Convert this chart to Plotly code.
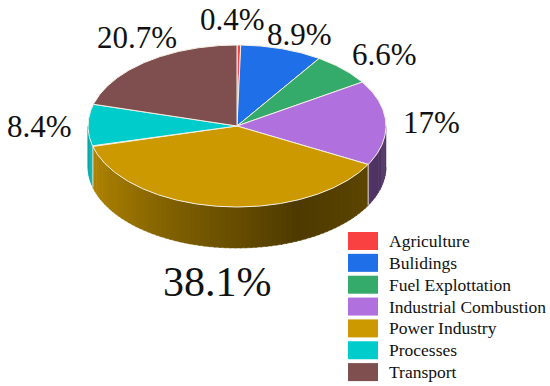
import numpy as np
import plotly.graph_objects as go

categories = ["Agriculture", "Bulidings", "Fuel Explottation", "Industrial Combustion",
              "Power Industry", "Processes", "Transport"]
shares = [0.4, 8.9, 6.6, 17, 38.1, 8.4, 20.7]
colors = ["#f94141", "#1f6fe8", "#35ab6b", "#b070de", "#cc9900", "#00cccc", "#7f4f4f"]
label_pos = [(232, 19, 31), (299, 34, 31), (384, 54, 31), (431, 122, 31),
             (217, 282, 42), (39, 126, 31), (137, 37, 31)]

CX, CY, RX, RY, DEPTH = 237, 126, 149, 81, 41
FONT = "Liberation Serif"


def rim(deg):
    a = np.radians(deg)
    return CX + RX * np.sin(a), CY - RY * np.cos(a)


def hex_rgb(c):
    return np.array([int(c[i:i + 2], 16) for i in (1, 3, 5)], float)


# Shading of the wall, as a function of the rim angle (degrees clockwise from top):
# brightness multiplier stops
shade_deg = [90, 118, 156, 180, 205, 230, 256, 270]
shade_val = [0.42, 0.46, 0.38, 0.50, 0.62, 0.76, 0.87, 0.80]

fig = go.Figure()
edges = np.concatenate([[0], np.cumsum(shares)]) / sum(shares) * 360

# walls (front half only)
for i, c in enumerate(colors):
    lo, hi = max(edges[i], 90), min(edges[i + 1], 270)
    if hi <= lo:
        continue
    steps = np.arange(lo, hi, 2.0).tolist() + [hi]
    for a0, a1 in zip(steps[:-1], steps[1:]):
        t = np.linspace(a0, min(a1 + 0.5, hi), 4)
        x, y = rim(t)
        k = np.interp((a0 + a1) / 2, shade_deg, shade_val)
        rgb = hex_rgb(c) * k
        col = f"rgb({rgb[0]:.0f},{rgb[1]:.0f},{rgb[2]:.0f})"
        fig.add_trace(go.Scatter(
            x=np.concatenate([x, x[::-1]]),
            y=np.concatenate([y, y[::-1] + DEPTH]),
            mode="lines", fill="toself", fillcolor=col,
            line=dict(width=0.5, color=col), hoverinfo="skip", showlegend=False))

# pale seams at the wall's wedge boundaries
for e in edges:
    if 90 < e < 270:
        x, y = rim(e)
        fig.add_trace(go.Scatter(x=[x, x], y=[y, y + DEPTH], mode="lines",
                                 line=dict(width=1, color="#e6e0d0"),
                                 hoverinfo="skip", showlegend=False))

# top face
for i, (name, v, c) in enumerate(zip(categories, shares, colors)):
    t = np.linspace(edges[i], edges[i + 1], max(3, int(edges[i + 1] - edges[i]) * 2))
    x, y = rim(t)
    fig.add_trace(go.Scatter(
        x=np.concatenate([[CX], x, [CX]]), y=np.concatenate([[CY], y, [CY]]),
        mode="lines", fill="toself", fillcolor=c,
        line=dict(width=1, color="#f4f0e4"), name=name,
        hovertemplate=f"{name}: {v:g}%<extra></extra>", showlegend=False))

annotations = []
for v, (x, y, size) in zip(shares, label_pos):
    annotations.append(dict(x=x, y=y, text=f"{v:g}%", showarrow=False, xanchor="center",
                            yanchor="middle", font=dict(family=FONT, size=size, color="#111111")))

shapes = []
for i, (name, c) in enumerate(zip(categories, colors)):
    top = 232 + i * 21.85
    shapes.append(dict(type="rect", x0=348, x1=378, y0=top, y1=top + 18,
                       fillcolor=c, line=dict(width=0), layer="above"))
    annotations.append(dict(x=386.5, y=top + 9, text=name, showarrow=False, xanchor="left",
                            yanchor="middle", font=dict(family=FONT, size=17.5, color="#111111")))

fig.update_layout(
    width=550, height=386, margin=dict(l=0, r=0, t=0, b=0),
    paper_bgcolor="white", plot_bgcolor="white", showlegend=False,
    xaxis=dict(range=[0, 550], visible=False, fixedrange=True),
    yaxis=dict(range=[386, 0], visible=False, fixedrange=True),
    annotations=annotations, shapes=shapes,
)
fig.write_html("out.html", config={"displayModeBar": False},
               post_script="document.body.style.margin='0';document.body.style.overflow='hidden';")
